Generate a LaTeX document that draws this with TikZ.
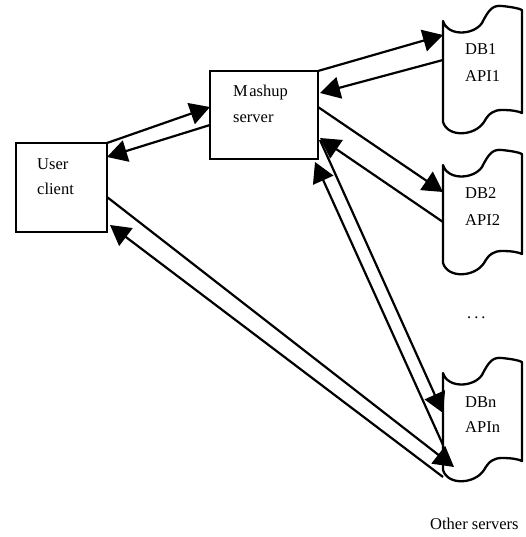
\documentclass[tikz,border=0pt]{standalone}
\usepackage{fontspec}
\setmainfont{Liberation Serif}
\usetikzlibrary{arrows.meta}
\newcommand\tapeshp[3]{%
  \draw[tapeline] (443,#1) .. controls (448,{#1+16}) and (474,{#1+14}) .. (482,{#1+2})
    .. controls (489,{#1-12}) and (493,{#1-16}) .. (502,{#1-15})
    .. controls (511,{#1-14}) and (518,{#1-13}) .. (522,{#1-11})
    -- (522,{#2-9})
    .. controls (518,{#2-11}) and (511,{#2-12}) .. (502,{#2-12})
    .. controls (494,{#2-12}) and (489,{#2-9}) .. (484,{#2})
    .. controls (475,{#2+14}) and (448,{#2+16}) .. (443,#2) -- cycle;
  \node[anchor=north west, minimum width=79pt, minimum height={(#2-#1)*1pt}, inner sep=0pt, outer sep=0pt, draw=none] (#3) at (443,#1) {};
}
\tikzset{
  boxnode/.style={draw, line width=2.8pt, inner sep=0pt, outer sep=0pt},
  tapeline/.style={line width=2.3pt, line join=round},
  conn/.style={line width=2.2pt, -{Triangle[length=20pt,width=22pt]}},
  lbl/.style={anchor=base west, inner sep=0pt, font=\fontsize{16.5}{18}\selectfont},
}
\begin{document}
\begin{tikzpicture}[x=1pt,y=-1pt]
\useasboundingbox (0,0) rectangle (525,537);
\fill[white] (0,0) rectangle (525,537);
% boxes
\node[boxnode, minimum width=91pt, minimum height=89pt] (uc) at (61.5,187.5) {};
\node[boxnode, minimum width=108pt, minimum height=88pt] (ms) at (264,115) {};
\node[lbl] (t1) at (37,170) {User};
\node[lbl] (t2) at (37,194) {client};
\node[lbl] (t3) at (233,97) {M\hspace{1.5pt}ashup};
\node[lbl] (t4) at (233,123) {server};
% tapes
\tapeshp{21}{122}{db1}
\tapeshp{165}{263}{db2}
\tapeshp{373}{470}{dbn}
\node[lbl] (d1) at (465,55) {DB1};
\node[lbl] (a1) at (465,82) {API1};
\node[lbl] (d2) at (465,198) {DB2};
\node[lbl] (a2) at (465,225) {API2};
\node[lbl] (dn) at (465,407) {DBn};
\node[lbl] (an) at (465,432) {APIn};
\node[lbl] (dots) at (467,318) {.\hspace{3pt}.\hspace{3pt}.};
\node[lbl] (other) at (430,529) {Other servers};
% connectors
\draw[conn] (uc.north east) -- ([yshift=-36pt]ms.north west);
\draw[conn] ([yshift=-54pt]ms.north west) -- ([yshift=-14pt]uc.north east);
\draw[conn] (ms.north east) -- ([yshift=-14pt]db1.north west);
\draw[conn] ([yshift=-39pt]db1.north west) -- ([xshift=2pt,yshift=-22pt]ms.north east);
\draw[conn] ([yshift=-36pt]ms.north east) -- ([yshift=-27pt]db2.north west);
\draw[conn] ([yshift=-57pt]db2.north west) -- ([xshift=2pt,yshift=-67pt]ms.north east);
\draw[conn] ([xshift=2pt,yshift=-69pt]ms.north east) -- ([yshift=-40pt]dbn.north west);
\draw[conn] ([yshift=-72pt]dbn.north west) -- ([xshift=-3pt,yshift=-3pt]ms.south east);
\draw[conn] ([yshift=-54pt]uc.north east) -- ([xshift=11pt,yshift=-94pt]dbn.north west);
\draw[conn] ([yshift=-104pt]dbn.north west) -- ([xshift=3pt,yshift=7pt]uc.south east);
\end{tikzpicture}
\end{document}
